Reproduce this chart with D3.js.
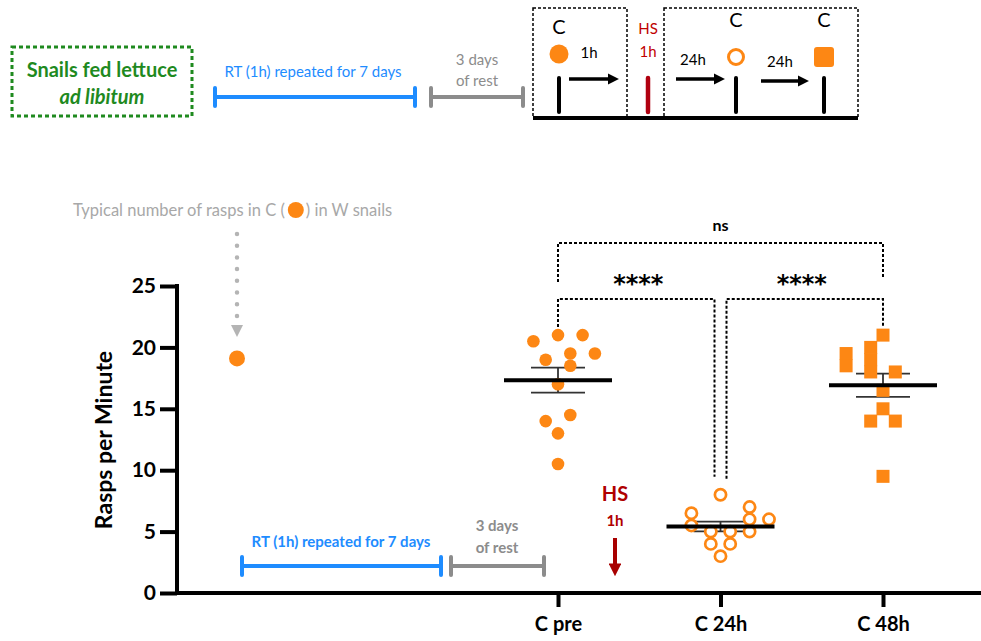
<!DOCTYPE html>
<html>
<head>
<meta charset="utf-8">
<script src="https://cdn.jsdelivr.net/npm/d3@7"></script>
<style>
  body { margin: 0; background: #fff; }
  svg text { font-family: Lato, "Open Sans", sans-serif; }
</style>
</head>
<body>
<svg id="plot"></svg>
<script>
// data
const categories = ["C pre", "C 24h", "C 48h"];
const cPre = [20.5, 21, 21, 19, 19.5, 19.5, 18.5, 17, 14.5, 14, 13, 10.5];
const cPreSlot = [-2, 0, 2, -1, 1, 3, 1, 0, 1, -1, 0, 0];
const c24h = [8, 6.5, 7, 6, 5.5, 6, 5, 5, 5, 4, 4, 3];
const c24hSlot = [0, -3, 3, 5, -3, 3, -1, 1, 3, -1, 1, 0];
const c48h = [21, 19.5, 18.5, 20, 19, 18, 18, 16.5, 15, 14, 14, 9.5];
const c48hSlot = [0, -3, -3, -1, -1, -1, 1, 0, 0, -1, 1, 0];
const wSnails = 19.1;
const yTicks = [0, 5, 10, 15, 20, 25];
const comparisons = [
  {from: "C pre", to: "C 24h", label: "****"},
  {from: "C 24h", to: "C 48h", label: "****"},
  {from: "C pre", to: "C 48h", label: "ns"}
];

const width = 981, height = 641;
const orange = "#fd8714", blue = "#1e8cff", grey = "#8c8c8c", lightGrey = "#a8a8a8",
      red = "#c00000", green = "#1f8a1f";

const svg = d3.select("#plot").attr("width", width).attr("height", height);

const defs = svg.append("defs");
function arrowHead(id, color) {
  defs.append("marker")
    .attr("id", id)
    .attr("viewBox", "0 0 10 10")
    .attr("refX", 2).attr("refY", 5)
    .attr("markerWidth", 3.2).attr("markerHeight", 3.2)
    .attr("orient", "auto")
    .append("path").attr("d", "M0,0 L10,5 L0,10 Z").attr("fill", color);
}
arrowHead("headBlack", "#000");
arrowHead("headRed", "#a80000");

// scales
const x = d3.scalePoint().domain(["W", "gap", ...categories]).range([233, 883]);
const y = d3.scaleLinear().domain([0, 25]).range([593, 286]);

const groups = [
  {cat: "C pre", values: cPre, slots: cPreSlot, slotW: 12.3, shape: "dot"},
  {cat: "C 24h", values: c24h, slots: c24hSlot, slotW: 9.7, shape: "ring"},
  {cat: "C 48h", values: c48h, slots: c48hSlot, slotW: 12.3, shape: "square"}
];
groups.forEach(g => {
  g.mean = d3.mean(g.values);
  g.sem = d3.deviation(g.values) / Math.sqrt(g.values.length);
});

// ---- axes ----
const yAxis = svg.append("g")
  .attr("transform", "translate(177,0)")
  .call(d3.axisLeft(y).tickValues(yTicks).tickSize(17).tickSizeOuter(0).tickPadding(4));
yAxis.select(".domain").attr("stroke-width", 4).attr("d", "M0," + (y(25) - 2) + "V" + (y(0) + 2));
yAxis.selectAll(".tick line").attr("stroke-width", 4);
yAxis.selectAll(".tick text")
  .style("font-size", "21px").style("font-weight", "bold").attr("fill", "#000");

const xAxis = svg.append("g")
  .attr("transform", "translate(0," + y(0) + ")")
  .call(d3.axisBottom(x).tickValues(categories).tickSize(14).tickPadding(10));
xAxis.select(".domain").attr("stroke-width", 4).attr("d", "M175,0H981");
xAxis.selectAll(".tick line").attr("stroke-width", 4);
xAxis.selectAll(".tick text")
  .style("font-size", "20px").style("font-weight", "bold").attr("fill", "#000");

svg.append("text")
  .attr("transform", "translate(112,440) rotate(-90)")
  .attr("text-anchor", "middle")
  .style("font-size", "23px").style("font-weight", "bold")
  .text("Rasps per Minute");

// ---- mean and SEM ----
groups.forEach(g => {
  const cx = x(g.cat);
  const s = svg.append("g").attr("class", "summary");
  s.append("line").attr("x1", cx).attr("x2", cx)
    .attr("y1", y(g.mean + g.sem)).attr("y2", y(g.mean - g.sem))
    .attr("stroke", "#333").attr("stroke-width", 1.8);
  [g.mean + g.sem, g.mean - g.sem].forEach(v => {
    s.append("line").attr("x1", cx - 27).attr("x2", cx + 27)
      .attr("y1", y(v)).attr("y2", y(v))
      .attr("stroke", "#333").attr("stroke-width", 1.8);
  });
});

// ---- points ----
groups.forEach(g => {
  const cx = x(g.cat);
  const pts = g.values.map((v, i) => ({v: v, px: cx + g.slots[i] * g.slotW}));
  const sel = svg.append("g").selectAll(".pt").data(pts).enter();
  if (g.shape === "dot") {
    sel.append("circle").attr("cx", d => d.px).attr("cy", d => y(d.v))
      .attr("r", 6.3).attr("fill", orange);
  } else if (g.shape === "ring") {
    sel.append("circle").attr("cx", d => d.px).attr("cy", d => y(d.v))
      .attr("r", 5.6).attr("fill", "#fff").attr("stroke", orange).attr("stroke-width", 2.7);
  } else {
    sel.append("rect").attr("x", d => d.px - 6.5).attr("y", d => y(d.v) - 6.5)
      .attr("width", 13).attr("height", 13).attr("fill", orange);
  }
});

// mean lines on top
groups.forEach(g => {
  const cx = x(g.cat);
  svg.append("line").attr("x1", cx - 54).attr("x2", cx + 54)
    .attr("y1", y(g.mean)).attr("y2", y(g.mean))
    .attr("stroke", "#000").attr("stroke-width", 4);
});

// W snails reference point
svg.append("circle").attr("cx", x("W") + 4).attr("cy", y(wSnails)).attr("r", 8).attr("fill", orange);

// ---- significance brackets ----
function bracket(topY, leftEnd, rightEnd, lx, rx) {
  svg.append("path")
    .attr("d", "M" + lx + "," + leftEnd + "V" + topY + "H" + rx + "V" + rightEnd)
    .attr("fill", "none").attr("stroke", "#000").attr("stroke-width", 2)
    .attr("stroke-dasharray", "3,2");
}
const topOf = g => y(d3.max(g.values)) - 12;
bracket(299, topOf(groups[0]) + 4, topOf(groups[1]) - 6, x("C pre"), x("C 24h") - 6);
bracket(299, topOf(groups[1]) - 4, topOf(groups[2]) + 3, x("C 24h") + 6, x("C 48h"));
bracket(243, 282, 278, x("C pre"), x("C 48h"));

[[(x("C pre") + x("C 24h")) / 2 - 1, comparisons[0].label],
 [(x("C 24h") + x("C 48h")) / 2, comparisons[1].label]].forEach(t => {
  svg.append("text").attr("x", t[0]).attr("y", 292)
    .attr("text-anchor", "middle")
    .style("font-family", "'DejaVu Sans', sans-serif")
    .style("font-size", "24px").style("font-weight", "bold")
    .text(t[1]);
});
svg.append("text").attr("x", (x("C pre") + x("C 48h")) / 2).attr("y", 231)
  .attr("text-anchor", "middle").style("font-size", "16px").style("font-weight", "bold")
  .text(comparisons[2].label);

// ---- annotation: W snails ----
const note = svg.append("g").attr("fill", lightGrey).style("font-size", "16.5px");
const part1 = note.append("text").attr("x", 73).attr("y", 216).text("Typical number of rasps in C (");
const w1 = part1.node().getComputedTextLength();
note.append("circle").attr("cx", 73 + w1 + 11).attr("cy", 210).attr("r", 8).attr("fill", orange);
note.append("text").attr("x", 73 + w1 + 21).attr("y", 216).text(")  in W snails");

svg.append("line").attr("x1", 237).attr("x2", 237).attr("y1", 234).attr("y2", 318)
  .attr("stroke", "#b4b4b4").attr("stroke-width", 4.5)
  .attr("stroke-linecap", "round").attr("stroke-dasharray", "0,11.7");
svg.append("path").attr("d", "M231,325 L243,325 L237,337 Z").attr("fill", "#b4b4b4");

// ---- bottom timeline ----
function capLine(x1, x2, yy, color, w, cap) {
  const g = svg.append("g").attr("stroke", color).attr("stroke-linecap", "round");
  g.append("line").attr("x1", x1).attr("x2", x2).attr("y1", yy).attr("y2", yy).attr("stroke-width", w);
  [x1, x2].forEach(xx => g.append("line").attr("x1", xx).attr("x2", xx)
    .attr("y1", yy - cap).attr("y2", yy + cap).attr("stroke-width", w));
}
capLine(242, 441, 566, blue, 4, 9);
capLine(451, 544, 566, grey, 4, 9);
svg.append("text").attr("x", 341).attr("y", 547).attr("text-anchor", "middle")
  .style("font-size", "15px").style("font-weight", "bold").attr("fill", blue)
  .text("RT (1h) repeated for 7 days");
svg.append("text").attr("x", 497).attr("y", 531).attr("text-anchor", "middle")
  .style("font-size", "15px").style("font-weight", "bold").attr("fill", grey).text("3 days");
svg.append("text").attr("x", 497).attr("y", 553).attr("text-anchor", "middle")
  .style("font-size", "15px").style("font-weight", "bold").attr("fill", grey).text("of rest");
svg.append("text").attr("x", 615).attr("y", 501).attr("text-anchor", "middle")
  .style("font-size", "20px").style("font-weight", "bold").attr("fill", "#b00000").text("HS");
svg.append("text").attr("x", 615).attr("y", 526).attr("text-anchor", "middle")
  .style("font-size", "15px").style("font-weight", "bold").attr("fill", "#b00000").text("1h");
svg.append("line").attr("x1", 615).attr("x2", 615).attr("y1", 538).attr("y2", 566)
  .attr("stroke", "#a80000").attr("stroke-width", 4).attr("marker-end", "url(#headRed)");

// ---- top protocol diagram ----
svg.append("rect").attr("x", 12).attr("y", 47).attr("width", 180).attr("height", 69)
  .attr("fill", "none").attr("stroke", green).attr("stroke-width", 3).attr("stroke-dasharray", "4,3");
svg.append("text").attr("x", 102).attr("y", 77).attr("text-anchor", "middle")
  .style("font-size", "20px").style("font-weight", "bold").attr("fill", green).text("Snails fed lettuce");
svg.append("text").attr("x", 102).attr("y", 104).attr("text-anchor", "middle")
  .style("font-size", "20px").style("font-weight", "bold").style("font-style", "italic")
  .attr("fill", green).text("ad libitum");

capLine(215, 415, 97, blue, 4, 9);
capLine(431, 523, 97, grey, 4, 9);
svg.append("text").attr("x", 313).attr("y", 77).attr("text-anchor", "middle")
  .style("font-size", "15px").attr("fill", blue).text("RT (1h) repeated for 7 days");
svg.append("text").attr("x", 477).attr("y", 65).attr("text-anchor", "middle")
  .style("font-size", "15px").attr("fill", grey).text("3 days");
svg.append("text").attr("x", 477).attr("y", 86).attr("text-anchor", "middle")
  .style("font-size", "15px").attr("fill", grey).text("of rest");

[[533, 8, 94, 110], [664, 8, 194, 110]].forEach(b => {
  svg.append("rect").attr("x", b[0]).attr("y", b[1]).attr("width", b[2]).attr("height", b[3])
    .attr("fill", "none").attr("stroke", "#000").attr("stroke-width", 1.5).attr("stroke-dasharray", "3,2");
});
svg.append("line").attr("x1", 533).attr("x2", 858).attr("y1", 118).attr("y2", 118)
  .attr("stroke", "#000").attr("stroke-width", 4);

[559, 736, 824].forEach(xx => {
  svg.append("line").attr("x1", xx).attr("x2", xx).attr("y1", 78).attr("y2", 112)
    .attr("stroke", "#000").attr("stroke-width", 4).attr("stroke-linecap", "round");
});
svg.append("line").attr("x1", 648).attr("x2", 648).attr("y1", 78).attr("y2", 112)
  .attr("stroke", "#b00010").attr("stroke-width", 4.5).attr("stroke-linecap", "round");

[[559, 34], [736, 27], [824, 27]].forEach(c => {
  svg.append("text").attr("x", c[0]).attr("y", c[1]).attr("text-anchor", "middle")
    .style("font-size", "20px").text("C");
});
svg.append("circle").attr("cx", 559).attr("cy", 54).attr("r", 9.5).attr("fill", orange);
svg.append("circle").attr("cx", 736).attr("cy", 57).attr("r", 7.5).attr("fill", "#fff")
  .attr("stroke", orange).attr("stroke-width", 3);
svg.append("rect").attr("x", 814).attr("y", 47).attr("width", 20).attr("height", 20).attr("rx", 3)
  .attr("fill", orange);

svg.append("text").attr("x", 648).attr("y", 34).attr("text-anchor", "middle")
  .style("font-size", "15px").attr("fill", "#c00000").text("HS");
svg.append("text").attr("x", 648).attr("y", 57).attr("text-anchor", "middle")
  .style("font-size", "15px").attr("fill", "#c00000").text("1h");

[[569, 610, 79, "1h", 589, 58], [676, 716, 79, "24h", 693, 65], [761, 800, 81, "24h", 780, 67]].forEach(a => {
  svg.append("line").attr("x1", a[0]).attr("x2", a[1]).attr("y1", a[2]).attr("y2", a[2])
    .attr("stroke", "#000").attr("stroke-width", 3.5).attr("marker-end", "url(#headBlack)");
  svg.append("text").attr("x", a[4]).attr("y", a[5]).attr("text-anchor", "middle")
    .style("font-size", "15px").text(a[3]);
});
</script>
</body>
</html>
